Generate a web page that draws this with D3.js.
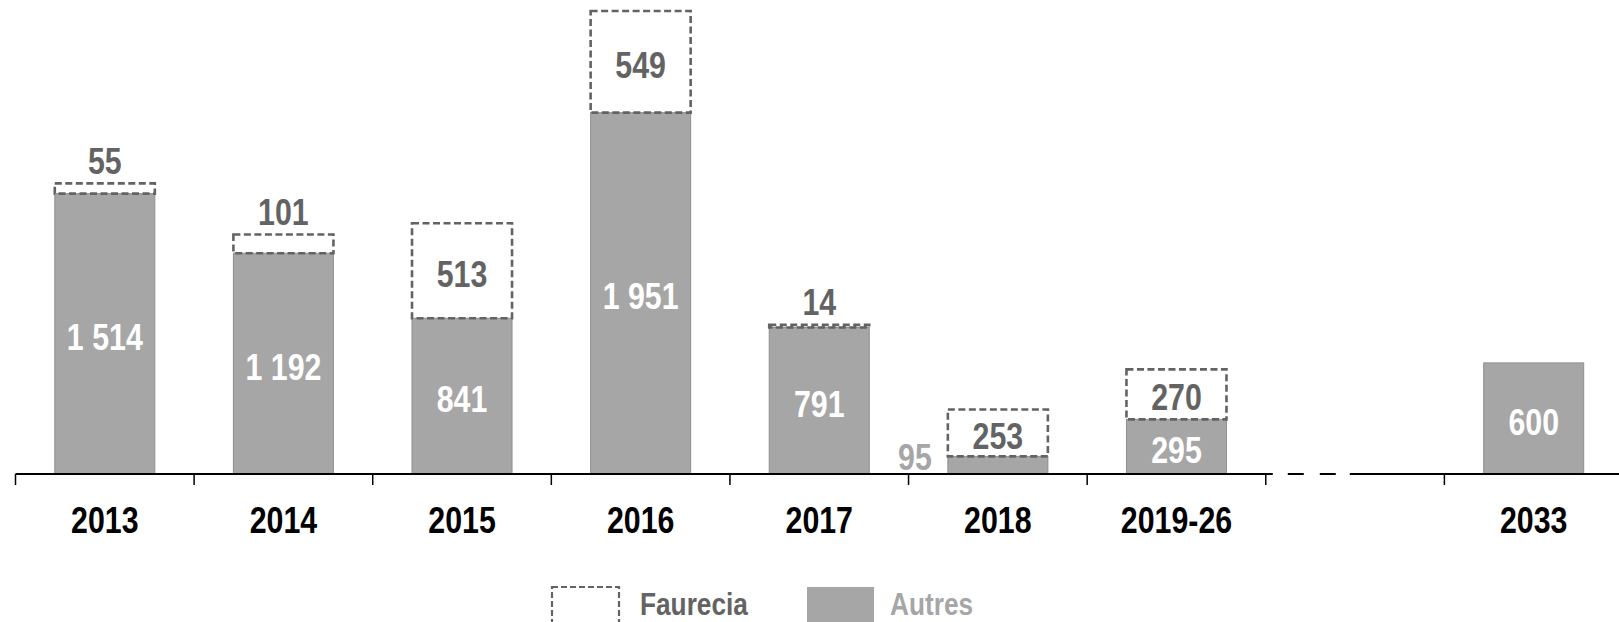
<!DOCTYPE html>
<html>
<head>
<meta charset="utf-8">
<script src="https://cdn.jsdelivr.net/npm/d3@7"></script>
<style>
  body { margin: 0; background: #fff; }
  text { font-family: "Liberation Sans Narrow", "Arial Narrow", "Liberation Sans", sans-serif; font-weight: bold; }
</style>
</head>
<body>
<div id="chart"></div>
<script>
  // values
  var categories = ["2013", "2014", "2015", "2016", "2017", "2018", "2019-26", "2033"];
  var autres = [1514, 1192, 841, 1951, 791, 95, 295, 600];
  var faurecia = [55, 101, 513, 549, 14, 253, 270, 0];
  var seriesNames = ["Faurecia", "Autres"];

  var width = 1619, height = 622;
  var grey = "#a6a6a6", dark = "#636363";
  var narrow = 0.82; // no narrow font installed, so squeeze the text

  // a blank slot stands for the axis break between 2019-26 and 2033
  var slots = categories.slice(0, 7).concat(["gap"]).concat(categories.slice(7));

  var svg = d3.select("#chart")
              .append("svg")
              .attr("width", width)
              .attr("height", height);

  var x = d3.scaleBand()
            .domain(slots)
            .range([15.5, 1623])
            .paddingInner(0.44)
            .paddingOuter(0.22);

  var y = d3.scaleLinear()
            .domain([0, 2500])
            .range([474, 11]);

  var step = x.step(),
      half = x.bandwidth() / 2;

  function slotStart(d) { return x(d) - step * x.paddingInner() / 2; }

  function place(sel, fx, fy) {
    sel.attr("transform", function(d, i) {
      return "translate(" + fx(d, i) + "," + fy(d, i) + ") scale(" + narrow + ",1)";
    });
  }

  var rows = categories.map(function(c, i) {
    return {cat: c, autres: autres[i], faurecia: faurecia[i]};
  });

  // Autres bars
  svg.selectAll(".autres")
     .data(rows)
     .enter()
     .append("rect")
     .attr("class", "autres")
     .attr("x", function(d) { return x(d.cat); })
     .attr("width", x.bandwidth())
     .attr("y", function(d) { return y(d.autres); })
     .attr("height", function(d) { return y(0) - y(d.autres); })
     .attr("fill", grey)
     .attr("stroke", "#8f8f8f")
     .attr("stroke-width", 1);

  // Faurecia dashed boxes
  svg.selectAll(".faurecia")
     .data(rows.filter(function(d) { return d.faurecia > 0; }))
     .enter()
     .append("rect")
     .attr("class", "faurecia")
     .attr("x", function(d) { return x(d.cat); })
     .attr("width", x.bandwidth())
     .attr("y", function(d) { return y(d.autres + d.faurecia); })
     .attr("height", function(d) { return y(d.autres) - y(d.autres + d.faurecia); })
     .attr("fill", "none")
     .attr("stroke", dark)
     .attr("stroke-width", 2.6)
     .attr("stroke-dasharray", "7,3.5");

  // axis line with break
  var gs = slotStart("gap");
  var axis = svg.append("g").attr("stroke", "#000");
  axis.append("line").attr("x1", x.range()[0]).attr("x2", gs + 7)
      .attr("y1", y(0)).attr("y2", y(0)).attr("stroke-width", 2);
  [[22, 38], [54, 70]].forEach(function(s) {
    axis.append("line").attr("x1", gs + s[0]).attr("x2", gs + s[1])
        .attr("y1", y(0)).attr("y2", y(0)).attr("stroke-width", 2);
  });
  axis.append("line").attr("x1", gs + 84).attr("x2", width)
      .attr("y1", y(0)).attr("y2", y(0)).attr("stroke-width", 2);

  var ticks = slots.map(slotStart);
  axis.selectAll(".tick")
      .data(ticks)
      .enter()
      .append("line")
      .attr("x1", function(d) { return d; })
      .attr("x2", function(d) { return d; })
      .attr("y1", y(0))
      .attr("y2", y(0) + 11)
      .attr("stroke-width", 1.5);

  svg.selectAll(".cat")
     .data(categories)
     .enter()
     .append("text")
     .attr("text-anchor", "middle")
     .attr("font-size", 37)
     .attr("fill", "#000")
     .text(function(d) { return d; })
     .call(place, function(d) { return x(d) + half; }, function() { return 533; });

  var fmt = function(v) { return d3.format(",")(v).replace(/,/g, " "); };

  // Autres labels
  svg.selectAll(".alab")
     .data(rows)
     .enter()
     .append("text")
     .attr("font-size", 37)
     .attr("dominant-baseline", "central")
     .attr("text-anchor", function(d) { return d.autres >= 200 ? "middle" : "end"; })
     .attr("fill", function(d) { return d.autres >= 200 ? "#fff" : grey; })
     .text(function(d) { return fmt(d.autres); })
     .call(place,
           function(d) { return d.autres >= 200 ? x(d.cat) + half : x(d.cat) - 16; },
           function(d) { return d.autres >= 200 ? (y(0) + y(d.autres)) / 2 + 3 : 457; });

  // Faurecia labels
  svg.selectAll(".flab")
     .data(rows.filter(function(d) { return d.faurecia > 0; }))
     .enter()
     .append("text")
     .attr("font-size", 37)
     .attr("dominant-baseline", "central")
     .attr("text-anchor", "middle")
     .attr("fill", dark)
     .text(function(d) { return fmt(d.faurecia); })
     .call(place,
           function(d) { return x(d.cat) + half; },
           function(d) {
             var top = y(d.autres + d.faurecia);
             return d.faurecia >= 200 ? (top + y(d.autres)) / 2 + 3 : top - 23;
           });

  // legend
  var legend = svg.selectAll(".legend")
                  .data(seriesNames)
                  .enter()
                  .append("g")
                  .attr("transform", function(d, i) { return "translate(" + [552, 807][i] + ",587)"; });

  legend.append("rect")
        .attr("width", 67)
        .attr("height", 42)
        .attr("fill", function(d, i) { return i == 0 ? "#fff" : grey; })
        .attr("stroke", function(d, i) { return i == 0 ? dark : "none"; })
        .attr("stroke-width", 2.2)
        .attr("stroke-dasharray", "6,3");

  legend.append("text")
        .attr("font-size", 32)
        .attr("fill", function(d, i) { return i == 0 ? dark : grey; })
        .text(function(d) { return d; })
        .call(place, function(d, i) { return i == 0 ? 88 : 83; }, function() { return 28; });
</script>
</body>
</html>
